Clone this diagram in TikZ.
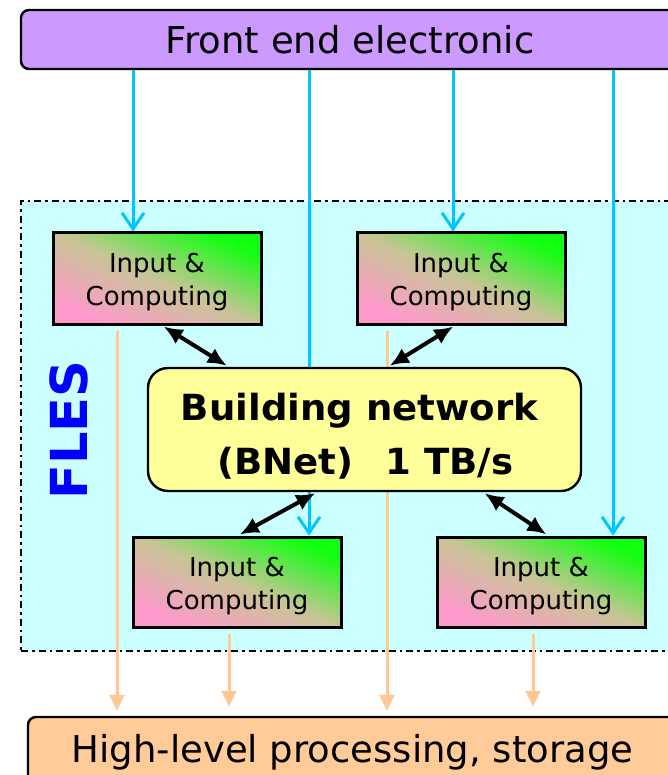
\documentclass[tikz,border=0pt]{standalone}
\usepackage{fontspec}
\setmainfont{DejaVu Sans}
\usetikzlibrary{arrows.meta}

\definecolor{febar}{HTML}{CC99FF}
\definecolor{flesbg}{HTML}{CCFFFF}
\definecolor{bnetbg}{HTML}{FFFF99}
\definecolor{hlpbg}{HTML}{FFCC99}
\definecolor{outflow}{RGB}{255,200,150}
\definecolor{inflow}{RGB}{0,200,255}
\definecolor{flesblue}{HTML}{0000FF}
\definecolor{icpink}{HTML}{FF99CC}
\definecolor{icmid}{RGB}{200,196,150}
\definecolor{icgreen}{HTML}{11FF11}

% diagonal pink-to-green fill of the compute boxes
\pgfdeclarehorizontalshading{icshade}{100bp}{color(0bp)=(icpink); color(25bp)=(icpink); color(50bp)=(icmid); color(75bp)=(icgreen); color(100bp)=(icgreen)}

\pgfdeclarelayer{flesl}
\pgfdeclarelayer{wires}
\pgfsetlayers{flesl,wires,main}

\begin{document}
\begin{tikzpicture}[x=1pt,y=-1pt,
  bar/.style={draw=black, line width=2.4pt, rounded corners=8pt, inner sep=0pt,
    font=\fontsize{37}{44}\selectfont},
  icbox/.style={draw=black, line width=3pt, shading=icshade, shading angle=66,
    minimum width=208pt, minimum height=91pt, inner sep=0pt},
  ictext/.style={align=center, inner sep=0pt, font=\fontsize{26}{33}\selectfont},
  inarrow/.style={draw=inflow, line width=3pt, -{Straight Barb[length=16pt,width=22pt]}},
  outarrow/.style={draw=outflow, line width=3pt, -{Triangle[length=16pt,width=15pt]},
    shorten <=5pt},
  linkarrow/.style={draw=black, line width=4pt,
    {Latex[length=19pt,width=17pt]}-{Latex[length=19pt,width=17pt]}, shorten <=2pt, shorten >=2pt}
]
\useasboundingbox (0,0) rectangle (667,775);

% outer blocks
\node[bar, fill=febar, minimum width=658pt, minimum height=59pt] (front) at (350,39.5) {Front end electronic};
\node[bar, fill=hlpbg, minimum width=649pt, minimum height=70.6pt] (hlp) at (352.5,752.3) {High-level processing, storage};

% compute nodes
\node[icbox] (in1) at (157,278.5) {};
\node[icbox] (in2) at (461,278.5) {};
\node[icbox, minimum height=90pt] (in3) at (237,582) {};
\node[icbox, minimum height=90pt] (in4) at (541,582) {};
\foreach \b in {in1,in2,in3,in4}
  \node[ictext] (\b txt) at ([yshift=-4pt]\b.center) {Input \&\\Computing};

% building network
\node[draw=black, line width=2.4pt, fill=bnetbg, rounded corners=20pt,
      minimum width=433pt, minimum height=123pt, inner sep=0pt] (bnet) at (364.5,429.5) {};
\node[align=center, font=\fontsize{36}{54}\selectfont\bfseries\addfontfeatures{FakeStretch=1.03}]
  (bnettext) at (359.5,436.6)
  {Building network\\\hspace*{12pt}(BNet)\hspace{32pt}1 TB/s};

% FLES label
\node[rotate=90, text=flesblue, font=\fontsize{51}{60}\selectfont\bfseries, inner sep=0pt] (flestitle) at (69,430) {FLES};

% links between compute nodes and the network
\draw[linkarrow] ([xshift=5pt]in1.south) -- ([xshift=-136pt]bnet.north);
\draw[linkarrow] ([xshift=-6pt]in2.south) -- ([xshift=23.5pt]bnet.north);
\draw[linkarrow] ([xshift=-47.5pt]bnet.south) -- ([xshift=1pt]in3.north);
\draw[linkarrow] ([xshift=118.5pt]bnet.south) -- ([xshift=7pt]in4.north);

% data paths
\coordinate (xb1) at (133,0);
\coordinate (xb2) at (309,0);
\coordinate (xb3) at (453,0);
\coordinate (xb4) at (613,0);
\coordinate (xo1) at (117,0);
\coordinate (xo2) at (229,0);
\coordinate (xo3) at (387,0);
\coordinate (xo4) at (533,0);

\begin{pgfonlayer}{wires}
\draw[inarrow] (front.south -| xb1) -- (in1.north -| xb1);
\draw[inarrow] (front.south -| xb2) -- (in3.north -| xb2);
\draw[inarrow] (front.south -| xb3) -- (in2.north -| xb3);
\draw[inarrow] (front.south -| xb4) -- (in4.north -| xb4);
\draw[outarrow, shorten >=5pt] (in1.south -| xo1) -- (hlp.north -| xo1);
\draw[outarrow, shorten >=9pt] (in3.south -| xo2) -- (hlp.north -| xo2);
\draw[outarrow, shorten >=5pt] (in2.south -| xo3) -- (hlp.north -| xo3);
\draw[outarrow, shorten >=9pt] (in4.south -| xo4) -- (hlp.north -| xo4);
\end{pgfonlayer}

\begin{pgfonlayer}{flesl}
\node[draw=black, line width=2.5pt, dash pattern=on 7pt off 4pt on 2.5pt off 4pt,
      fill=flesbg, minimum width=660pt, minimum height=450pt, inner sep=0pt] (fles) at (351,426) {};
\end{pgfonlayer}
\end{tikzpicture}
\end{document}
